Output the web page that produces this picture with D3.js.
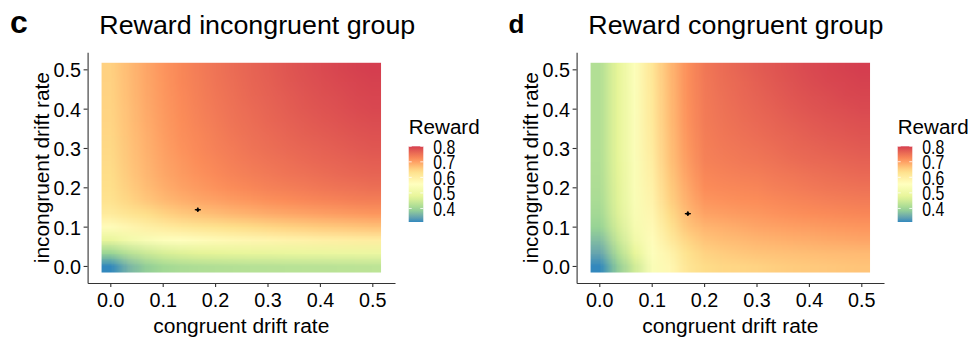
<!DOCTYPE html>
<html>
<head>
<meta charset="utf-8">
<script src="https://cdn.jsdelivr.net/npm/d3@7"></script>
<style>
  body { margin: 0; background: #fff; }
  svg { display: block; }
  text { font-family: "Liberation Sans", Arial, Helvetica, sans-serif; fill: #000; }
</style>
</head>
<body>
<svg id="chart" width="973" height="340"></svg>
<script>
// Grid of drift rates on which reward was evaluated (both axes use the same grid)
const driftGrid = [0, 0.0333, 0.0667, 0.1, 0.1333, 0.1667, 0.2, 0.2333, 0.2667, 0.3,
                   0.3333, 0.3667, 0.4, 0.4333, 0.4667, 0.5];
const driftTicks = [0, 0.1, 0.2, 0.3, 0.4, 0.5];
const rewardTicks = [0.4, 0.5, 0.6, 0.7, 0.8];

// Reward surfaces: one row per incongruent drift rate (bottom to top),
// one column per congruent drift rate (left to right)
const rewardIncongruentGroup = [
  [0.313, 0.36, 0.387, 0.403, 0.412, 0.417, 0.42, 0.422, 0.424, 0.425, 0.426, 0.427, 0.428, 0.429, 0.43, 0.431],
  [0.395, 0.425, 0.445, 0.459, 0.468, 0.474, 0.478, 0.481, 0.484, 0.486, 0.488, 0.49, 0.491, 0.493, 0.494, 0.495],
  [0.485, 0.515, 0.535, 0.549, 0.558, 0.565, 0.57, 0.575, 0.579, 0.583, 0.587, 0.591, 0.595, 0.598, 0.601, 0.604],
  [0.565, 0.58, 0.595, 0.607, 0.617, 0.625, 0.631, 0.637, 0.642, 0.647, 0.651, 0.655, 0.659, 0.662, 0.665, 0.668],
  [0.61, 0.625, 0.638, 0.65, 0.66, 0.667, 0.673, 0.679, 0.684, 0.689, 0.693, 0.697, 0.701, 0.704, 0.707, 0.71],
  [0.63, 0.647, 0.662, 0.675, 0.685, 0.693, 0.699, 0.705, 0.71, 0.715, 0.719, 0.723, 0.727, 0.73, 0.733, 0.735],
  [0.637, 0.655, 0.672, 0.687, 0.698, 0.707, 0.714, 0.72, 0.726, 0.731, 0.735, 0.739, 0.743, 0.746, 0.749, 0.752],
  [0.64, 0.66, 0.678, 0.693, 0.705, 0.714, 0.722, 0.729, 0.735, 0.74, 0.745, 0.749, 0.753, 0.757, 0.76, 0.763],
  [0.643, 0.663, 0.681, 0.697, 0.709, 0.719, 0.727, 0.734, 0.741, 0.746, 0.751, 0.756, 0.76, 0.764, 0.767, 0.77],
  [0.645, 0.665, 0.684, 0.70, 0.713, 0.723, 0.732, 0.739, 0.746, 0.752, 0.757, 0.762, 0.766, 0.77, 0.774, 0.777],
  [0.647, 0.667, 0.686, 0.703, 0.716, 0.726, 0.735, 0.743, 0.75, 0.756, 0.762, 0.767, 0.771, 0.775, 0.779, 0.782],
  [0.649, 0.669, 0.688, 0.705, 0.718, 0.729, 0.738, 0.746, 0.753, 0.76, 0.766, 0.771, 0.776, 0.78, 0.784, 0.787],
  [0.65, 0.67, 0.69, 0.707, 0.72, 0.731, 0.741, 0.749, 0.756, 0.763, 0.769, 0.775, 0.78, 0.784, 0.788, 0.791],
  [0.651, 0.672, 0.692, 0.709, 0.722, 0.733, 0.743, 0.751, 0.759, 0.766, 0.772, 0.778, 0.783, 0.787, 0.791, 0.794],
  [0.652, 0.673, 0.693, 0.71, 0.724, 0.735, 0.745, 0.753, 0.761, 0.768, 0.775, 0.781, 0.786, 0.79, 0.794, 0.797],
  [0.653, 0.674, 0.694, 0.711, 0.725, 0.737, 0.747, 0.755, 0.763, 0.77, 0.777, 0.783, 0.788, 0.793, 0.797, 0.80]
];

const rewardCongruentGroup = [
  [0.313, 0.385, 0.45, 0.54, 0.575, 0.62, 0.64, 0.645, 0.647, 0.65, 0.654, 0.657, 0.659, 0.661, 0.663, 0.665],
  [0.345, 0.415, 0.48, 0.55, 0.585, 0.63, 0.65, 0.656, 0.661, 0.665, 0.667, 0.669, 0.671, 0.673, 0.674, 0.675],
  [0.37, 0.44, 0.51, 0.563, 0.607, 0.647, 0.665, 0.671, 0.675, 0.68, 0.683, 0.686, 0.688, 0.691, 0.693, 0.695],
  [0.393, 0.455, 0.525, 0.572, 0.625, 0.663, 0.68, 0.685, 0.69, 0.695, 0.698, 0.701, 0.703, 0.706, 0.708, 0.71],
  [0.405, 0.465, 0.533, 0.58, 0.64, 0.675, 0.697, 0.701, 0.705, 0.708, 0.712, 0.715, 0.718, 0.72, 0.723, 0.725],
  [0.411, 0.469, 0.537, 0.587, 0.65, 0.685, 0.71, 0.713, 0.716, 0.718, 0.722, 0.726, 0.729, 0.732, 0.735, 0.737],
  [0.415, 0.471, 0.539, 0.593, 0.655, 0.692, 0.719, 0.722, 0.725, 0.727, 0.732, 0.736, 0.74, 0.743, 0.746, 0.748],
  [0.417, 0.473, 0.54, 0.598, 0.66, 0.698, 0.725, 0.729, 0.732, 0.735, 0.74, 0.744, 0.748, 0.751, 0.754, 0.757],
  [0.418, 0.474, 0.541, 0.603, 0.665, 0.703, 0.73, 0.735, 0.739, 0.742, 0.747, 0.752, 0.756, 0.759, 0.762, 0.765],
  [0.419, 0.475, 0.542, 0.607, 0.667, 0.707, 0.733, 0.739, 0.744, 0.748, 0.753, 0.758, 0.762, 0.766, 0.769, 0.772],
  [0.42, 0.475, 0.543, 0.61, 0.669, 0.71, 0.735, 0.742, 0.748, 0.753, 0.758, 0.763, 0.768, 0.772, 0.775, 0.778],
  [0.42, 0.475, 0.543, 0.613, 0.671, 0.712, 0.737, 0.745, 0.751, 0.757, 0.763, 0.768, 0.773, 0.777, 0.78, 0.783],
  [0.42, 0.475, 0.544, 0.615, 0.672, 0.713, 0.738, 0.747, 0.754, 0.761, 0.767, 0.773, 0.778, 0.782, 0.785, 0.788],
  [0.42, 0.475, 0.544, 0.617, 0.673, 0.714, 0.739, 0.749, 0.757, 0.764, 0.771, 0.777, 0.782, 0.786, 0.79, 0.792],
  [0.42, 0.475, 0.545, 0.619, 0.674, 0.715, 0.74, 0.751, 0.759, 0.767, 0.774, 0.78, 0.786, 0.79, 0.793, 0.796],
  [0.42, 0.475, 0.545, 0.62, 0.675, 0.715, 0.741, 0.753, 0.762, 0.77, 0.777, 0.783, 0.788, 0.793, 0.796, 0.799]
];

// Group mean drift rates (marked with a cross)
const meanCongruentDrift = [0.167, 0.169];
const meanIncongruentDrift = [0.143, 0.133];

const panelLetters = ["c", "d"];
const panelTitles = ["Reward incongruent group", "Reward congruent group"];
const panelSurfaces = [rewardIncongruentGroup, rewardCongruentGroup];

// Spectral palette, low reward = blue, high reward = red
const spectral = ["#3288BD", "#99D594", "#E6F598", "#FFFFBF", "#FEE08B", "#FC8D59", "#D53E4F"];

const svg = d3.select("#chart");
const fmt = d3.format(".1f");

function rasterImage(matrix, color) {
  const rows = matrix.length, cols = matrix[0].length;
  const canvas = document.createElement("canvas");
  canvas.width = cols; canvas.height = rows;
  const ctx = canvas.getContext("2d");
  const img = ctx.createImageData(cols, rows);
  matrix.forEach((row, j) => row.forEach((v, i) => {
    const c = d3.rgb(color(v));
    const k = ((rows - 1 - j) * cols + i) * 4;
    img.data[k] = c.r; img.data[k + 1] = c.g; img.data[k + 2] = c.b; img.data[k + 3] = 255;
  }));
  ctx.putImageData(img, 0, 0);
  return canvas.toDataURL();
}

function drawPanel(p, dx, titleWidth, letterSize, letterX) {
  const surface = panelSurfaces[p];
  const extent = d3.extent(surface.flat());
  const color = d3.scaleLinear()
    .domain(d3.range(spectral.length).map(k => extent[0] + k * (extent[1] - extent[0]) / (spectral.length - 1)))
    .range(spectral)
    .interpolate(d3.interpolateLab);

  const half = (driftGrid[1] - driftGrid[0]) / 2;
  const lo = driftGrid[0] - half, hi = driftGrid[driftGrid.length - 1] + half;
  const pad = (hi - lo) * 0.05;
  const x = d3.scaleLinear().domain([lo - pad, hi + pad]).range([87.6 + dx, 395 + dx]);
  const y = d3.scaleLinear().domain([lo - pad, hi + pad]).range([283, 52.3]);

  const g = svg.append("g");

  // smoothed reward surface
  g.append("image")
    .attr("href", rasterImage(surface, color))
    .attr("x", x(lo)).attr("y", y(hi))
    .attr("width", x(hi) - x(lo)).attr("height", y(lo) - y(hi))
    .attr("preserveAspectRatio", "none");

  // axes
  const xAxis = g.append("g").attr("transform", `translate(0,${y.range()[0]})`)
    .call(d3.axisBottom(x).tickValues(driftTicks).tickFormat(fmt).tickSize(4).tickSizeOuter(0));
  const yAxis = g.append("g").attr("transform", `translate(${x.range()[0]},0)`)
    .call(d3.axisLeft(y).tickValues(driftTicks).tickFormat(fmt).tickSize(4).tickSizeOuter(0));
  [xAxis, yAxis].forEach(a => {
    a.attr("font-size", null).attr("font-family", null);
    a.select(".domain").attr("stroke", "#333").attr("stroke-width", 1.1);
    a.selectAll(".tick line").attr("stroke", "#333").attr("stroke-width", 1.1);
    a.selectAll(".tick text").attr("fill", "#111")
      .attr("textLength", 27.5).attr("lengthAdjust", "spacingAndGlyphs")
      .style("font-size", "20.5px")
      .style("font-family", '"Liberation Sans", Arial, sans-serif');
  });
  xAxis.selectAll(".tick text").attr("y", 9.5).attr("dy", "0.71em");
  yAxis.selectAll(".tick text").attr("x", -6.5).attr("dy", "0.36em");

  // mean drift marker
  const mx = x(meanCongruentDrift[p]), my = y(meanIncongruentDrift[p]);
  g.append("line").attr("x1", mx - 3).attr("x2", mx + 3).attr("y1", my).attr("y2", my)
    .attr("stroke", "#000").attr("stroke-width", 1.3);
  g.append("line").attr("x1", mx).attr("x2", mx).attr("y1", my - 2.3).attr("y2", my + 2.3)
    .attr("stroke", "#000").attr("stroke-width", 1.3);
  g.append("circle").attr("cx", mx).attr("cy", my).attr("r", 1.6).attr("fill", "#000");

  // titles
  g.append("text").attr("x", letterX).attr("y", 32.5)
    .attr("font-size", letterSize).attr("font-weight", "bold").text(panelLetters[p]);
  g.append("text").attr("x", 99.3 + dx).attr("y", 34)
    .attr("font-size", 25.5).attr("textLength", titleWidth).attr("lengthAdjust", "spacingAndGlyphs")
    .text(panelTitles[p]);
  g.append("text").attr("x", (x.range()[0] + x.range()[1]) / 2).attr("y", 333)
    .attr("text-anchor", "middle").attr("font-size", 20)
    .attr("textLength", 176).attr("lengthAdjust", "spacingAndGlyphs")
    .text("congruent drift rate");
  g.append("text")
    .attr("transform", `translate(${49 + dx},${(y.range()[0] + y.range()[1]) / 2}) rotate(-90)`)
    .attr("text-anchor", "middle").attr("font-size", 20)
    .attr("textLength", 191).attr("lengthAdjust", "spacingAndGlyphs")
    .text("incongruent drift rate");

  // colour bar legend
  const lx = 408.7 + dx, barW = 14.6, barTop = 146.3, barBottom = 222;
  const ls = d3.scaleLinear().domain(extent).range([barBottom, barTop]);
  const gradId = "bar" + p;
  const grad = svg.append("defs").append("linearGradient").attr("id", gradId)
    .attr("x1", 0).attr("x2", 0).attr("y1", 1).attr("y2", 0);
  d3.range(0, 1.0001, 0.05).forEach(t => {
    grad.append("stop").attr("offset", t).attr("stop-color", color(extent[0] + t * (extent[1] - extent[0])));
  });
  g.append("text").attr("x", lx).attr("y", 133.7).attr("font-size", 19.5)
    .attr("textLength", 71).attr("lengthAdjust", "spacingAndGlyphs").text("Reward");
  g.append("rect").attr("x", lx).attr("y", barTop).attr("width", barW).attr("height", barBottom - barTop)
    .attr("fill", `url(#${gradId})`);
  rewardTicks.forEach(v => {
    g.append("line").attr("x1", lx).attr("x2", lx + 3).attr("y1", ls(v)).attr("y2", ls(v))
      .attr("stroke", "#fff").attr("stroke-width", 0.8);
    g.append("line").attr("x1", lx + barW - 3).attr("x2", lx + barW).attr("y1", ls(v)).attr("y2", ls(v))
      .attr("stroke", "#fff").attr("stroke-width", 0.8);
    g.append("text").attr("x", lx + 24.6).attr("y", ls(v)).attr("dy", "0.36em")
      .attr("font-size", 21).attr("fill", "#111")
      .attr("textLength", 22).attr("lengthAdjust", "spacingAndGlyphs")
      .text(fmt(v));
  });
}

drawPanel(0, 0, 316, 32, 10);
drawPanel(1, 489, 295, 26, 508.5);
</script>
</body>
</html>
